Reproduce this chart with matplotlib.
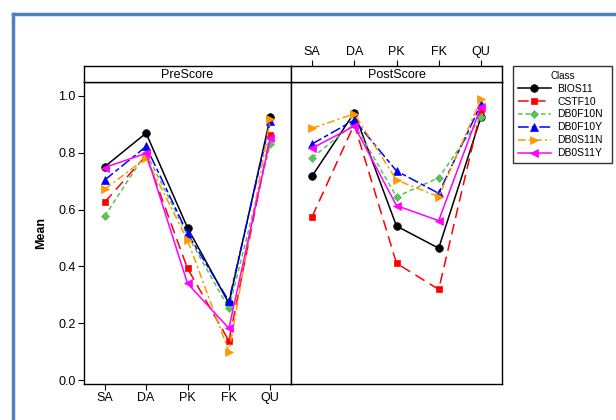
import matplotlib
matplotlib.use("Agg")
import matplotlib.pyplot as plt
from matplotlib.lines import Line2D

plt.rcParams['font.family'] = ['Liberation Sans', 'DejaVu Sans']

items = ['SA', 'DA', 'PK', 'FK', 'QU']
classes = ['BIOS11', 'CSTF10', 'DB0F10N', 'DB0F10Y', 'DB0S11N', 'DB0S11Y']

# mean values per class
pre_scores = {
    'BIOS11':  [0.751, 0.869, 0.536, 0.270, 0.925],
    'CSTF10':  [0.626, 0.790, 0.393, 0.138, 0.863],
    'DB0F10N': [0.577, 0.800, 0.510, 0.252, 0.830],
    'DB0F10Y': [0.704, 0.822, 0.516, 0.278, 0.912],
    'DB0S11N': [0.672, 0.781, 0.493, 0.100, 0.920],
    'DB0S11Y': [0.748, 0.798, 0.340, 0.182, 0.851],
}
post_scores = {
    'BIOS11':  [0.718, 0.941, 0.542, 0.464, 0.925],
    'CSTF10':  [0.575, 0.900, 0.411, 0.319, 0.951],
    'DB0F10N': [0.783, 0.902, 0.645, 0.712, 0.925],
    'DB0F10Y': [0.831, 0.915, 0.736, 0.657, 0.970],
    'DB0S11N': [0.886, 0.937, 0.704, 0.645, 0.988],
    'DB0S11Y': [0.816, 0.894, 0.614, 0.561, 0.962],
}

styles = {
    'BIOS11':  dict(color='black', marker='o', linestyle='-'),
    'CSTF10':  dict(color='#ff0000', marker='s', linestyle=(0, (7, 4))),
    'DB0F10N': dict(color='#5cbf5c', marker='D', linestyle=(0, (3, 2))),
    'DB0F10Y': dict(color='#0000ff', marker='^', linestyle=(0, (7, 2, 3, 2))),
    'DB0S11N': dict(color='#ff9900', marker='>', linestyle=(0, (5, 2, 1.5, 2))),
    'DB0S11Y': dict(color='#ff00ff', marker='<', linestyle='-'),
}
msize = {'o': 5.5, 's': 5, 'D': 4.3, '^': 6, '>': 6, '<': 6}

W, H = 616, 420
fig = plt.figure(figsize=(W / 100, H / 100), dpi=100)

def fx(px):
    return px / W

def fy(py):
    return 1 - py / H

left, mid, right = 84, 291, 502
top, bottom, strip_top = 82, 384, 66

ax_pre = fig.add_axes([fx(left), fy(bottom), fx(mid - left), fy(top) - fy(bottom)])
ax_post = fig.add_axes([fx(mid), fy(bottom), fx(right - mid), fy(top) - fy(bottom)])
st_pre = fig.add_axes([fx(left), fy(top), fx(mid - left), fy(strip_top) - fy(top)])
st_post = fig.add_axes([fx(mid), fy(top), fx(right - mid), fy(strip_top) - fy(top)])

x = list(range(len(items)))
for ax, data in [(ax_pre, pre_scores), (ax_post, post_scores)]:
    for c in classes:
        st = styles[c]
        ax.plot(x, data[c], color=st['color'], marker=st['marker'],
                linestyle=st['linestyle'], lw=1.1, markersize=msize[st['marker']],
                markeredgewidth=0.5, markeredgecolor=st['color'], label=c)
    ax.set_xlim(-0.5, 4.5)
    ax.set_ylim(-0.014, 1.049)
    for s in ax.spines.values():
        s.set_linewidth(1.0)

ax_pre.set_xticks(x)
ax_pre.set_xticklabels(items, fontsize=9)
ax_pre.set_yticks([0.0, 0.2, 0.4, 0.6, 0.8, 1.0])
ax_pre.set_yticklabels(['0.0', '0.2', '0.4', '0.6', '0.8', '1.0'], fontsize=9)
ax_pre.tick_params(direction='out', length=4, width=0.8, pad=2)
ax_pre.set_ylabel('Mean', fontsize=9, fontweight='bold', labelpad=8)

ax_post.set_xticks([])
ax_post.set_yticks([])

for st, name in [(st_pre, 'PreScore'), (st_post, 'PostScore')]:
    st.set_xlim(-0.5, 4.5)
    st.set_ylim(0, 1)
    st.set_yticks([])
    st.text(2, 0.45, name, ha='center', va='center', fontsize=9)
    for s in st.spines.values():
        s.set_linewidth(1.0)
st_pre.set_xticks([])
st_post.set_xticks(x)
st_post.set_xticklabels(items, fontsize=9)
st_post.xaxis.tick_top()
st_post.tick_params(axis='x', direction='out', length=4, width=0.8, pad=2)

handles, labels = ax_pre.get_legend_handles_labels()
leg = fig.legend(handles, labels, title='Class', loc='upper left',
                 bbox_to_anchor=(fx(513), fy(165), fx(612 - 513), fy(66) - fy(165)),
                 mode='expand', frameon=True, fancybox=False, fontsize=7.5,
                 title_fontsize=7, handlelength=3.2, handletextpad=0.6,
                 labelspacing=0.28, borderaxespad=0, borderpad=0.45)
leg.get_frame().set_edgecolor('black')
leg.get_frame().set_linewidth(1.0)

# outer blue frame
fig.add_artist(Line2D([fx(13), fx(13)], [0, fy(14)], color='#4f81bd', lw=2.5))
fig.add_artist(Line2D([fx(13), 1], [fy(14), fy(14)], color='#4f81bd', lw=2.5))

fig.savefig('out.png', dpi=100)
